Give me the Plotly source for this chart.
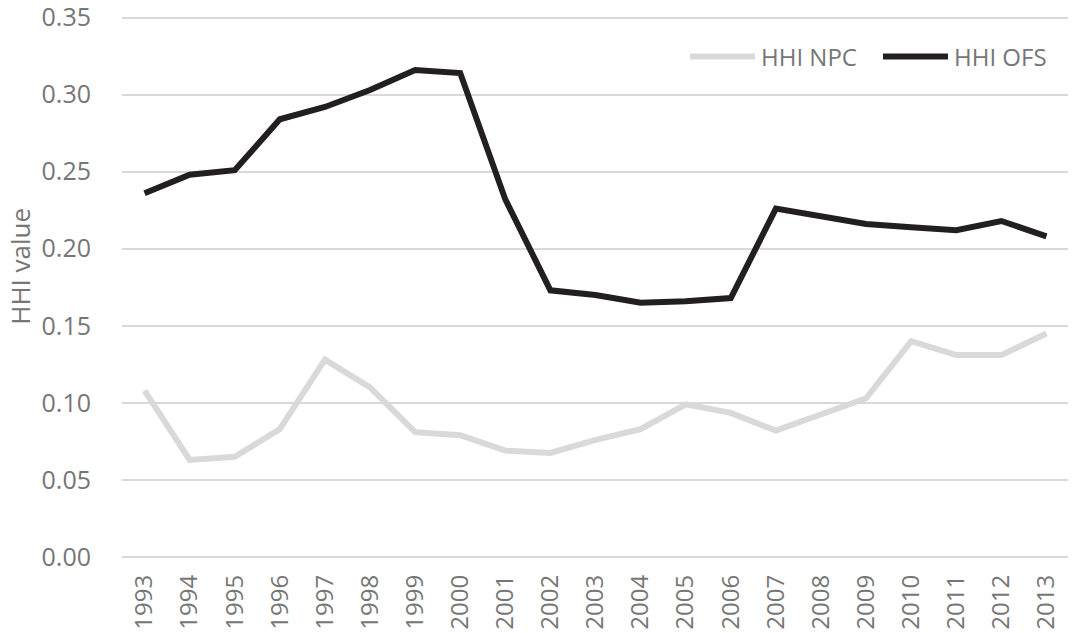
import plotly.graph_objects as go

years = [str(y) for y in range(1993, 2014)]
hhi_npc = [0.108, 0.063, 0.065, 0.083, 0.128, 0.110, 0.081, 0.079, 0.069, 0.0675, 0.076,
           0.083, 0.099, 0.0935, 0.082, 0.092, 0.103, 0.140, 0.131, 0.131, 0.145]
hhi_ofs = [0.236, 0.248, 0.251, 0.284, 0.292, 0.303, 0.316, 0.314, 0.232, 0.173, 0.170,
           0.165, 0.166, 0.168, 0.226, 0.221, 0.216, 0.214, 0.212, 0.218, 0.208]
y_ticks = [0.0, 0.05, 0.10, 0.15, 0.20, 0.25, 0.30, 0.35]
series_names = ["HHI NPC", "HHI OFS"]
series_colors = ["#d9d9d9", "#231f20"]

font_fam = "Open Sans, Liberation Sans, sans-serif"
gray = "#767676"
fs_ytick = 25
fs_xtick = 24
fs_leg = 24
fs_title = 26

# page body has an 8px default margin; size the figure so the plot lands on target pixels
OFF = 8
W, H = 1076 - OFF, 633 - OFF
y_top = 0.351  # tiny headroom so the 0.35 gridline is not clipped at the edge
y0_px, y35_px = 557, 18
ph = (y0_px - y35_px) * y_top / 0.35
ml, mr, mb = 122 - OFF, 7, 76
mt = H - mb - ph

fig = go.Figure()
for name, vals, col in zip(series_names, [hhi_npc, hhi_ofs], series_colors):
    fig.add_trace(go.Scatter(x=years, y=vals, mode="lines", name=name,
                             line=dict(color=col, width=6), showlegend=False))

pw = W - ml - mr
def px_x(p):  # page pixel -> paper coord
    return (p - OFF - ml) / pw
def px_y(p):
    return 1 - (p - OFF - mt) / ph

legend_items = [(690, 755, 759), (883, 948, 952)]
ly = 57
for (x0, x1, tx), name, col in zip(legend_items, series_names, series_colors):
    fig.add_shape(type="line", xref="paper", yref="paper",
                  x0=px_x(x0), x1=px_x(x1), y0=px_y(ly), y1=px_y(ly),
                  line=dict(color=col, width=6))
    fig.add_annotation(xref="paper", yref="paper", x=px_x(tx), y=px_y(ly),
                       text=name, showarrow=False, xanchor="left", yanchor="middle",
                       font=dict(family=font_fam, size=fs_leg, color=gray))

fig.add_annotation(xref="paper", yref="paper", x=px_x(20), y=px_y(267),
                   text="HHI value", textangle=-90, showarrow=False,
                   xanchor="center", yanchor="middle",
                   font=dict(family=font_fam, size=fs_title, color=gray))

fig.update_layout(
    width=W, height=H,
    margin=dict(l=ml, r=mr, t=mt, b=mb, autoexpand=False),
    paper_bgcolor="white", plot_bgcolor="white",
    font=dict(family=font_fam, color=gray, size=fs_ytick),
    showlegend=False,
    xaxis=dict(type="category", range=[-0.5, len(years) - 0.5], tickangle=-90,
               showgrid=False, showline=False, ticks="", automargin=False,
               ticklabelstandoff=12, ticklabeloverflow="allow",
               tickfont=dict(size=fs_xtick, color=gray)),
    yaxis=dict(range=[0, y_top], tickvals=y_ticks, tickformat=".2f",
               showgrid=True, gridcolor="#d9d9d9", gridwidth=2,
               zeroline=True, zerolinecolor="#d9d9d9", zerolinewidth=2,
               showline=False, ticks="", ticklabelstandoff=30, automargin=False,
               ticklabeloverflow="allow",
               tickfont=dict(size=fs_ytick, color=gray)),
)

fig.write_html("out.html")
